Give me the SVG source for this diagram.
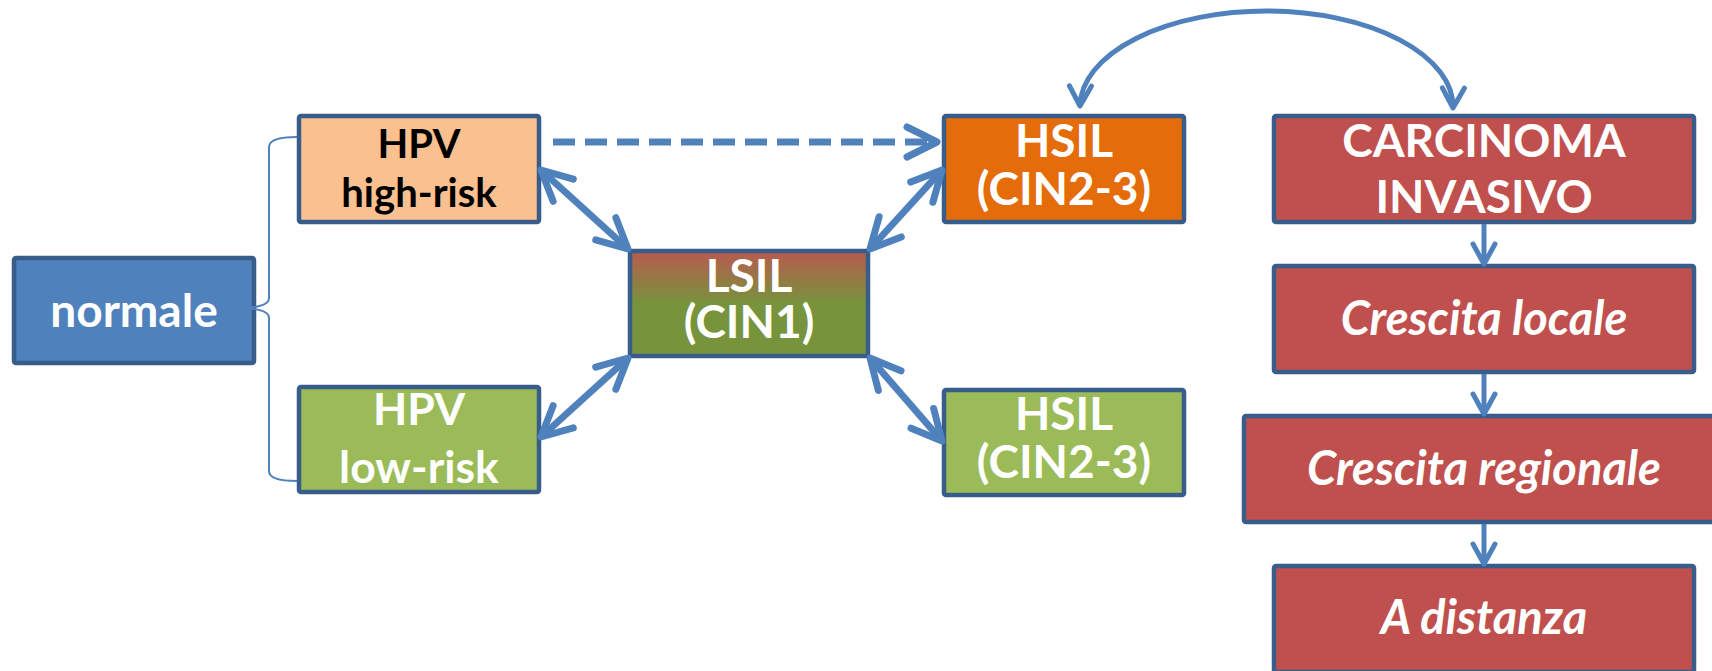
<svg xmlns="http://www.w3.org/2000/svg" width="1712" height="671" viewBox="0 0 1712 671">
<defs>
<style>
.box{stroke:#385D8A;stroke-width:4.5}
.t{font-family:Lato,"Liberation Sans",sans-serif;font-weight:bold;font-size:46px;fill:#fff;text-anchor:middle}
.it{font-style:italic;font-size:47px}
.blk{fill:#000}
.conn{fill:none;stroke:#4F81BD;stroke-width:7}
.thin{fill:none;stroke:#4F81BD;stroke-width:5}
.brace{fill:none;stroke:#4F81BD;stroke-width:2}
.mk{fill:none;stroke:#4F81BD;stroke-linecap:round;stroke-linejoin:round}
</style>
<linearGradient id="lsil" x1="0" y1="0" x2="0" y2="1">
<stop offset="0" stop-color="#B85A4F"/>
<stop offset="0.5" stop-color="#77933C"/>
<stop offset="1" stop-color="#77933C"/>
</linearGradient>
<marker id="ah" markerUnits="userSpaceOnUse" orient="auto-start-reverse" refX="0" refY="0" markerWidth="40" markerHeight="40" overflow="visible">
<path class="mk" d="M-30,-15 L0,0 L-30,15" stroke-width="7"/>
</marker>
<marker id="as" markerUnits="userSpaceOnUse" orient="auto-start-reverse" refX="0" refY="0" markerWidth="30" markerHeight="30" overflow="visible">
<path class="mk" d="M-20,-11 L0,0 L-20,11" stroke-width="5"/>
</marker>
</defs>
<rect width="1712" height="671" fill="#fff"/>

<g id="normale">
<rect class="box" x="14" y="258" width="240" height="105" rx="2" fill="#4F81BD"/>
<text class="t" x="134" y="327">normale</text>
</g>
<g id="hpv-high">
<rect class="box" x="299" y="116" width="240" height="106" rx="2" fill="#FAC090"/>
<text class="t blk" x="419" y="158" style="font-size:40px"><tspan x="419" y="158">HPV</tspan><tspan x="419" y="207">high-risk</tspan></text>
</g>
<g id="hpv-low">
<rect class="box" x="299" y="387" width="240" height="105" rx="2" fill="#9BBB59"/>
<text class="t" x="419" y="425" style="font-size:44.5px"><tspan x="419" y="425">HPV</tspan><tspan x="419" y="483">low-risk</tspan></text>
</g>
<g id="lsil-node">
<rect class="box" x="630" y="251" width="238" height="105" rx="2" fill="url(#lsil)"/>
<text class="t" x="749" y="292"><tspan x="749" y="292">LSIL</tspan><tspan x="749" y="338">(CIN1)</tspan></text>
</g>
<g id="hsil-orange">
<rect class="box" x="944" y="116" width="240" height="106" rx="2" fill="#E46C0A"/>
<text class="t" x="1064" y="157"><tspan x="1064" y="157">HSIL</tspan><tspan x="1064" y="205">(CIN2-3)</tspan></text>
</g>
<g id="hsil-green">
<rect class="box" x="944" y="390" width="240" height="105" rx="2" fill="#9BBB59"/>
<text class="t" x="1064" y="430"><tspan x="1064" y="430">HSIL</tspan><tspan x="1064" y="478">(CIN2-3)</tspan></text>
</g>
<g id="carcinoma">
<rect class="box" x="1274" y="116" width="420" height="106" rx="2" fill="#C0504D"/>
<text class="t" x="1484" y="157"><tspan x="1484" y="157">CARCINOMA</tspan><tspan x="1484" y="213">INVASIVO</tspan></text>
</g>
<g id="crescita-locale">
<rect class="box" x="1274" y="266" width="420" height="106" rx="2" fill="#C0504D"/>
<text class="t it" x="1484" y="335">Crescita locale</text>
</g>
<g id="crescita-regionale">
<rect class="box" x="1244" y="416" width="480" height="106" rx="2" fill="#C0504D"/>
<text class="t it" x="1484" y="485">Crescita regionale</text>
</g>
<g id="a-distanza">
<rect class="box" x="1274" y="566" width="420" height="106" rx="2" fill="#C0504D"/>
<text class="t it" x="1484" y="634">A distanza</text>
</g>

<g id="connectors">
<path class="brace" d="M297,137 Q269,137 269,147 L269,298 Q269,308 238,308 Q269,308 269,318 L269,471 Q269,481 297,481"/>
<line class="conn" x1="553" y1="142" x2="937" y2="142" stroke-dasharray="22 10" marker-end="url(#ah)"/>
<line class="conn" x1="541" y1="170" x2="628" y2="249" marker-start="url(#ah)" marker-end="url(#ah)"/>
<line class="conn" x1="870" y1="249" x2="942" y2="170" marker-start="url(#ah)" marker-end="url(#ah)"/>
<line class="conn" x1="628" y1="358" x2="541" y2="437" marker-start="url(#ah)" marker-end="url(#ah)"/>
<line class="conn" x1="870" y1="358" x2="942" y2="441" marker-start="url(#ah)" marker-end="url(#ah)"/>
<path class="thin" d="M1080,106 A186.5,96 0 0 1 1453,108" marker-start="url(#as)" marker-end="url(#as)"/>
<line class="thin" x1="1484" y1="224" x2="1484" y2="264" marker-end="url(#as)"/>
<line class="thin" x1="1484" y1="374" x2="1484" y2="414" marker-end="url(#as)"/>
<line class="thin" x1="1484" y1="524" x2="1484" y2="564" marker-end="url(#as)"/>
</g>
</svg>
